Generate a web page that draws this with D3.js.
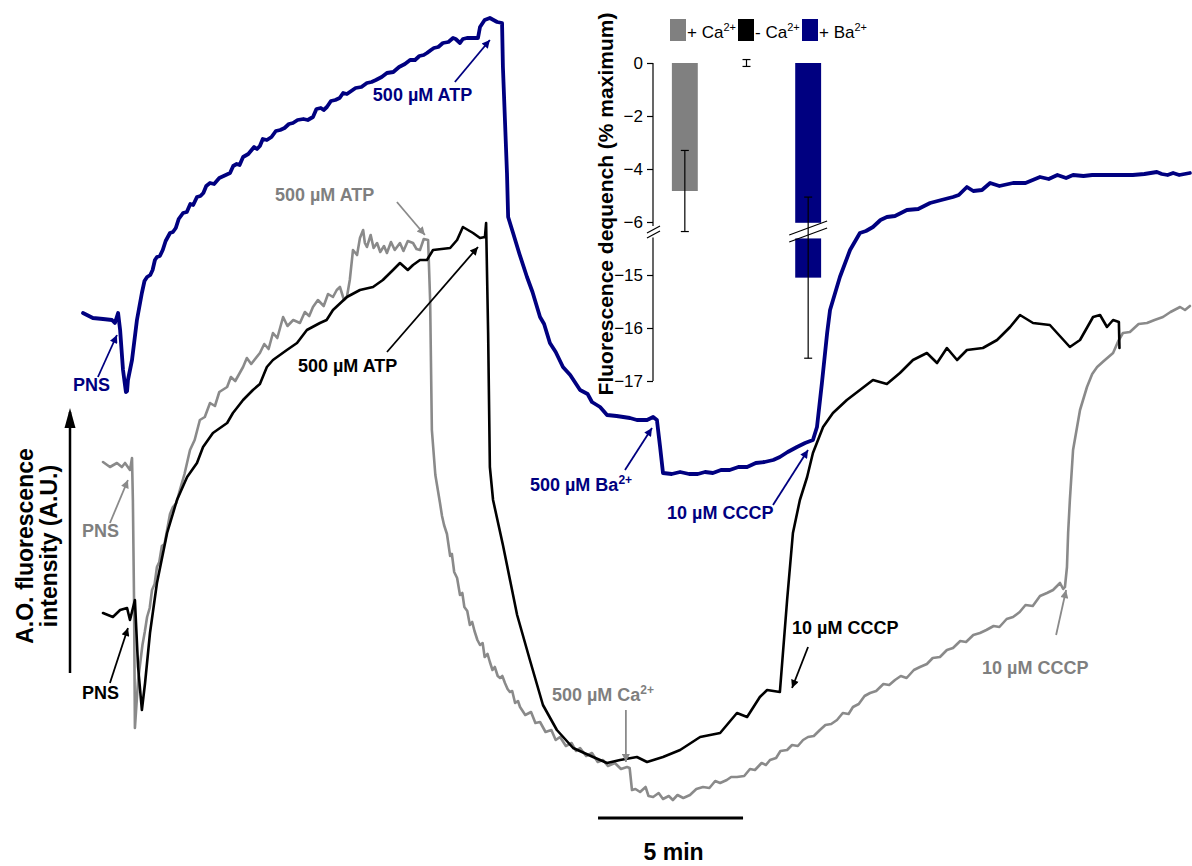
<!DOCTYPE html>
<html>
<head>
<meta charset="utf-8">
<script src="https://cdn.jsdelivr.net/npm/d3@7"></script>
<style>
  body { margin: 0; background: #fff; }
  svg { display: block; font-family: "Liberation Sans", Arial, Helvetica, sans-serif; }
</style>
</head>
<body>
<svg id="chart" width="1192" height="866"></svg>
<script>
// ---- Fluorescence traces: [time (min), A.O. fluorescence (A.U.)] ----
// + Ca2+ (grey): PNS, 500 µM ATP, 500 µM Ca2+, 10 µM CCCP
const traceCa = [
  [0.69,36.8],[0.93,36.3],[1.17,36.7],[1.34,36.3],[1.45,36.7],[1.62,36.0],[1.69,37.2],
  [1.72,33.0],[1.76,23.0],[1.79,10.2],[1.90,15.0],[2.05,18.5],[2.13,19.8],[2.21,21.3],
  [2.30,22.2],[2.38,24.0],[2.47,24.6],[2.55,26.3],[2.63,26.8],[2.72,28.4],[2.81,28.6],
  [2.90,30.0],[3.00,31.6],[3.10,32.3],[3.22,32.7],[3.34,34.0],[3.50,35.6],[3.69,38.0],
  [3.85,39.0],[4.03,41.0],[4.20,41.3],[4.38,42.7],[4.55,42.4],[4.70,43.8],[4.97,44.3],
  [5.10,45.3],[5.25,44.9],[5.52,46.3],[5.65,47.2],[5.80,46.6],[6.10,47.7],[6.25,48.6],
  [6.40,48.1],[6.55,49.7],[6.70,49.2],[6.90,51.3],[7.05,50.4],[7.25,51.0],[7.48,50.7],
  [7.65,51.8],[7.80,51.4],[7.93,52.3],[8.10,53.0],[8.30,52.4],[8.45,53.6],[8.62,53.3],
  [8.75,54.0],[8.86,54.3],[9.00,53.0],[9.10,53.3],[9.20,55.0],[9.31,58.0],[9.45,57.5],
  [9.55,59.2],[9.66,60.0],[9.72,58.7],[9.79,58.3],[9.92,59.5],[10.02,58.2],[10.14,58.7],
  [10.25,57.8],[10.38,58.4],[10.48,57.7],[10.62,58.8],[10.75,58.0],[10.93,58.7],
  [11.05,57.9],[11.20,58.9],[11.38,58.7],[11.50,58.1],[11.62,58.0],[11.75,59.1],
  [11.90,59.0],[11.97,53.0],[12.03,40.0],[12.15,35.5],[12.31,32.7],[12.38,31.4],
  [12.45,30.5],[12.55,29.6],[12.66,27.4],[12.72,27.6],[12.80,25.8],[12.90,25.2],
  [13.00,23.5],[13.08,23.7],[13.15,22.3],[13.25,21.9],[13.34,20.5],[13.42,20.8],
  [13.50,19.9],[13.60,19.0],[13.69,18.5],[13.78,18.7],[13.85,17.3],[13.95,17.6],
  [14.03,16.8],[14.12,16.0],[14.20,16.3],[14.30,15.4],[14.38,15.2],[14.46,15.4],
  [14.55,14.7],[14.64,14.1],[14.72,13.8],[14.80,13.9],[14.90,12.7],[15.00,12.9],
  [15.07,12.3],[15.25,11.5],[15.45,11.8],[15.60,10.7],
  [15.76,10.8],[15.95,9.8],[16.15,10.0],[16.30,9.0],[16.45,9.3],[16.65,8.4],[16.85,8.7],
  [17.00,7.9],[17.14,8.2],[17.35,7.4],[17.55,7.7],[17.75,6.8],[17.93,7.0],[18.10,6.4],
  [18.34,6.7],[18.55,6.1],[18.76,6.3],[18.85,6.2],[18.93,4.0],[19.05,4.1],[19.21,3.8],
  [19.40,4.3],[19.50,3.4],[19.66,3.3],[19.85,3.7],[20.00,3.1],[20.20,3.4],[20.34,3.0],
  [20.50,3.5],[20.70,3.2],[20.93,3.5],[21.15,4.1],[21.38,4.3],[21.60,4.2],[21.80,4.9],
  [21.97,4.7],[22.20,5.0],[22.35,5.3],[22.55,5.3],[22.80,5.4],[23.00,6.1],[23.17,6.0],
  [23.40,6.7],[23.55,6.5],[23.69,7.0],[23.90,7.2],[24.05,7.9],[24.28,8.0],[24.45,8.5],
  [24.65,8.4],[24.83,9.0],[25.00,9.3],[25.20,9.4],[25.41,10.0],[25.60,10.5],[25.80,10.6],
  [26.00,11.0],[26.20,11.7],[26.40,11.6],[26.55,12.3],[26.75,12.6],[26.95,13.4],
  [27.14,13.7],[27.35,13.9],[27.60,14.6],[27.80,14.5],[28.00,15.0],[28.20,15.4],
  [28.40,15.2],[28.65,16.0],[28.86,16.3],[29.10,16.6],[29.30,17.2],[29.55,17.3],
  [29.79,18.0],[30.00,18.2],[30.25,18.9],[30.45,18.8],[30.70,19.5],[30.93,19.7],
  [31.15,20.0],[31.40,20.4],[31.60,20.3],[31.85,21.1],[32.07,21.3],[32.30,21.8],
  [32.50,22.5],[32.75,22.4],[33.00,23.4],[33.24,23.7],[33.45,24.0],[33.69,24.7],
  [33.80,24.1],[33.86,24.3],[33.93,26.3],[33.97,29.7],[34.03,33.0],[34.14,38.0],
  [34.38,42.0],[34.62,44.3],[34.80,45.6],[34.97,46.3],[35.20,46.9],[35.52,47.7],
  [35.70,48.9],[35.86,49.7],[36.10,49.8],[36.40,50.6],[36.69,50.7],[36.95,51.0],
  [37.24,51.3],[37.50,51.8],[37.83,52.3],[38.00,52.0],[38.17,52.4]
];

// - Ca2+ (black): PNS, 500 µM ATP, 10 µM CCCP
const traceNoCa = [
  [0.69,21.7],[1.03,21.3],[1.28,22.0],[1.52,22.2],[1.62,21.0],[1.79,23.0],[1.90,16.3],
  [2.03,12.0],[2.14,14.7],[2.31,19.7],[2.55,24.7],[2.90,29.7],[3.24,33.0],[3.59,35.3],
  [3.93,36.7],[4.14,38.3],[4.48,39.7],[4.97,40.7],[5.17,41.7],[5.52,43.0],[5.86,44.0],
  [6.10,44.6],[6.34,46.3],[6.55,47.0],[7.03,48.0],[7.38,48.7],[7.72,50.0],[8.17,50.7],
  [8.40,51.0],[8.62,52.0],[9.10,53.3],[9.55,54.0],[10.00,54.3],[10.34,55.0],[10.69,56.0],
  [10.93,56.7],[11.20,56.0],[11.38,56.5],[11.62,57.0],[11.86,57.0],[12.07,58.0],
  [12.66,58.2],[12.90,59.0],[13.10,60.3],[13.45,59.7],[13.69,59.2],[13.86,59.3],
  [13.90,60.7],[13.97,49.7],[14.03,36.3],[14.14,33.0],[14.48,28.5],[14.97,21.5],
  [15.41,17.0],[15.86,12.5],[16.34,10.0],[16.90,8.2],[17.59,7.3],[18.07,6.7],[18.52,7.0],
  [19.10,7.3],[19.45,6.8],[20.00,7.3],[20.59,8.0],[21.28,9.3],[21.97,9.7],[22.55,11.7],
  [22.90,11.3],[23.34,13.3],[23.59,14.0],[24.03,13.8],[24.28,23.0],[24.48,29.7],
  [24.72,33.0],[24.97,35.3],[25.17,37.7],[25.52,40.3],[25.86,41.7],[26.34,43.0],
  [26.79,44.0],[27.24,45.0],[27.72,44.6],[28.17,45.7],[28.62,47.0],[29.10,47.7],
  [29.45,46.7],[29.79,48.2],[30.14,47.0],[30.48,48.0],[31.03,48.2],[31.52,49.0],
  [31.97,50.3],[32.31,51.5],[32.76,50.7],[33.34,50.5],[34.03,48.3],[34.38,49.0],
  [34.83,51.3],[35.07,51.5],[35.31,50.3],[35.52,51.0],[35.72,50.8],[35.74,48.2]
];

// + Ba2+ (navy): PNS, 500 µM ATP, 500 µM Ba2+, 10 µM CCCP
const traceBa = [
  [0,51.7],[0.34,51.2],[0.69,51.1],[1.00,51.0],[1.10,50.7],[1.21,51.7],[1.28,50.0],
  [1.38,46.0],[1.48,43.8],[1.52,43.9],[1.55,45.0],[1.69,47.0],[1.86,51.0],[2.03,53.7],
  [2.12,54.9],[2.21,55.3],[2.32,55.5],[2.40,56.0],[2.48,57.0],[2.55,57.3],[2.65,57.4],
  [2.75,58.0],[2.85,58.9],[3.00,59.7],[3.10,59.8],[3.20,60.2],[3.30,61.1],[3.45,61.7],
  [3.58,61.8],[3.70,62.6],[3.80,62.5],[3.93,63.3],[4.05,63.4],[4.15,63.7],[4.25,64.4],
  [4.38,64.7],[4.52,64.6],[4.70,65.2],[4.85,65.4],[5.07,65.7],[5.18,66.4],[5.30,66.6],
  [5.40,66.5],[5.52,67.3],[5.70,67.6],[5.90,68.3],[6.00,68.1],[6.10,68.4],[6.20,69.1],
  [6.34,69.0],[6.50,69.3],[6.65,69.9],[6.80,70.0],[6.95,70.2],[7.10,70.6],[7.24,70.7],
  [7.40,71.0],[7.60,71.1],[7.75,71.0],[7.93,71.3],[8.05,72.1],[8.20,72.2],[8.30,72.0],
  [8.41,72.3],[8.55,72.9],[8.70,73.0],[8.85,73.2],[8.97,73.7],[9.10,73.6],[9.25,73.9],
  [9.40,74.2],[9.60,74.3],[9.79,74.7],[9.95,74.8],[10.10,75.0],[10.30,75.3],[10.48,75.7],
  [10.70,75.8],[10.90,76.3],[11.10,76.6],[11.28,77.0],[11.45,77.0],[11.60,77.4],
  [11.75,77.5],[11.86,77.7],[12.00,78.0],[12.10,78.2],[12.25,78.3],[12.41,78.7],
  [12.60,78.8],[12.76,79.2],[12.85,79.1],[13.00,78.7],[13.10,79.1],[13.24,79.2],
  [13.45,79.2],[13.62,79.2],[13.69,80.3],[13.85,81.0],[14.03,81.2],[14.28,80.8],
  [14.45,80.7],[14.48,76.3],[14.62,65.7],[14.66,61.3],[14.83,59.7],[15.05,57.6],
  [15.31,55.3],[15.50,53.8],[15.76,51.3],[15.90,50.6],[16.10,48.7],[16.30,47.8],
  [16.55,46.3],[16.80,45.5],[17.14,44.0],[17.40,43.6],[17.55,42.8],[17.83,42.3],
  [18.07,41.5],[18.40,41.4],[18.86,41.2],[19.10,41.0],[19.45,41.0],[19.66,41.3],
  [19.79,41.0],[19.90,38.3],[20.00,35.7],[20.30,35.6],[20.59,35.8],[20.90,35.6],
  [21.20,35.6],[21.45,35.8],[21.72,35.7],[22.00,36.0],[22.30,36.0],[22.60,36.3],
  [22.90,36.3],[23.20,36.7],[23.50,36.8],[23.80,37.0],[24.03,37.3],[24.30,37.8],
  [24.62,38.3],[24.90,38.7],[25.17,39.0],[25.31,40.3],[25.48,44.7],[25.66,49.7],
  [25.76,52.0],[26.10,55.3],[26.45,58.0],[26.79,59.7],[27.00,59.9],[27.24,60.3],
  [27.50,61.0],[27.72,61.3],[28.00,61.4],[28.41,62.0],[28.80,62.1],[29.21,62.7],
  [29.60,63.0],[30.00,63.3],[30.20,63.5],[30.48,64.3],[30.70,63.9],[31.00,64.0],
  [31.28,64.7],[31.60,64.4],[32.07,64.7],[32.50,64.7],[33.00,65.3],[33.30,65.1],
  [33.60,65.5],[33.90,65.2],[34.14,65.5],[34.50,65.4],[34.80,65.5],[35.31,65.5],
  [35.80,65.5],[36.20,65.5],[36.60,65.6],[37.03,65.8],[37.20,65.6],[37.40,65.5],
  [37.59,65.7],[37.80,65.5],[38.17,65.7]
];

// ---- Inset: fluorescence dequench (% maximum), mean ± SD ----
const dequenchGroups = ["+ Ca", "- Ca", "+ Ba"];
const dequenchMean = [-4.83, 0, -15.05];
const dequenchErr = [1.53, 0.13, 1.52];
const upperTicks = [0, -2, -4, -6];
const lowerTicks = [-15, -16, -17];

// scale bar length (min)
const scaleBarMinutes = 5;
const scaleBarStart = 17.76;

const NAVY = "#000080", GREY = "#8a8a8a", GREY_TEXT = "#7f7f7f", BLACK = "#000";

const svg = d3.select("#chart");
svg.append("rect").attr("width", 1192).attr("height", 866).attr("fill", "#fff");

// main scales
const x = d3.scaleLinear().domain([0, 40]).range([83, 1243]);
const y = d3.scaleLinear().domain([0, 82]).range([830, 10]);

const line = d3.line().x(d => x(d[0])).y(d => y(d[1]));

const traces = [
  { data: traceCa, color: GREY, width: 2.6 },
  { data: traceNoCa, color: BLACK, width: 2.6 },
  { data: traceBa, color: NAVY, width: 3.8 }
];
svg.append("g").selectAll("path").data(traces).join("path")
  .attr("d", d => line(d.data))
  .attr("fill", "none")
  .attr("stroke", d => d.color)
  .attr("stroke-width", d => d.width)
  .attr("stroke-linejoin", "round")
  .attr("stroke-linecap", "round");

// arrow markers
const defs = svg.append("defs");
[["navy", NAVY], ["grey", GREY], ["black", BLACK]].forEach(([id, c]) => {
  defs.append("marker").attr("id", "ah-" + id)
    .attr("viewBox", "0 0 10 10").attr("refX", 10).attr("refY", 5)
    .attr("markerUnits", "userSpaceOnUse")
    .attr("markerWidth", 10).attr("markerHeight", 8).attr("orient", "auto")
    .append("path").attr("d", "M0,0 L10,5 L0,10 Z").attr("fill", c);
});

// annotations: tip anchored on the trace (data units), tail and label offsets in px
const notes = [
  { parts: [["500 µM ATP"]], mk: "navy", color: NAVY, tip: [14.03, 79.0], tail: [-35, 42], lab: [-117, 61] },
  { parts: [["500 µM ATP"]], mk: "grey", color: GREY_TEXT, tip: [11.79, 59.5], tail: [-28, -33], lab: [-150, -34] },
  { parts: [["500 µM ATP"]], mk: "black", color: BLACK, tip: [13.62, 58.3], tail: [-91, 105], lab: [-180, 125] },
  { parts: [["PNS"]], mk: "navy", color: NAVY, tip: [1.17, 49.5], tail: [-19, 42], lab: [-44, 56] },
  { parts: [["PNS"]], mk: "grey", color: GREY_TEXT, tip: [1.55, 35.0], tail: [-18, 43], lab: [-46, 57] },
  { parts: [["PNS"]], mk: "black", color: BLACK, tip: [1.55, 20.2], tail: [-18, 55], lab: [-46, 71] },
  { parts: [["500 µM Ba"], ["2+", true]], mk: "navy", color: NAVY, tip: [19.62, 40.2], tail: [-27, 42], lab: [-122, 63] },
  { parts: [["10 µM CCCP"]], mk: "navy", color: NAVY, tip: [25.0, 38.0], tail: [-35, 55], lab: [-141, 69] },
  { parts: [["10 µM CCCP"]], mk: "black", color: BLACK, tip: [24.45, 14.2], tail: [16, -41], lab: [0, -54] },
  { parts: [["500 µM Ca"], ["2+", true]], mk: "grey", color: GREY_TEXT, tip: [18.72, 6.8], tail: [0, -52], lab: [-74, -61] },
  { parts: [["10 µM CCCP"]], mk: "grey", color: GREY_TEXT, tip: [33.9, 24.0], tail: [-10, 45], lab: [-84, 84] }
];

const ng = svg.append("g");
notes.forEach(n => {
  const tx = x(n.tip[0]), ty = y(n.tip[1]);
  ng.append("line")
    .attr("x1", tx + n.tail[0]).attr("y1", ty + n.tail[1])
    .attr("x2", tx).attr("y2", ty)
    .attr("stroke", n.mk === "grey" ? GREY : n.color).attr("stroke-width", 1.8)
    .attr("marker-end", `url(#ah-${n.mk})`);
  const t = ng.append("text")
    .attr("x", tx + n.lab[0]).attr("y", ty + n.lab[1])
    .attr("fill", n.color).attr("font-weight", "bold").attr("font-size", 18);
  n.parts.forEach(([s, sup]) => {
    const sp = t.append("tspan").text(s);
    if (sup) sp.attr("font-size", 12).attr("dy", -7);
  });
});

// y-axis arrow and label
svg.append("line").attr("x1", 70).attr("y1", 673).attr("x2", 70).attr("y2", 412)
  .attr("stroke", BLACK).attr("stroke-width", 2.5);
svg.append("path").attr("d", "M70,408 L64.5,428 L75.5,428 Z").attr("fill", BLACK);
const yl = svg.append("text").attr("transform", "translate(0,546) rotate(-90)")
  .attr("text-anchor", "middle").attr("font-weight", "bold").attr("font-size", 23);
yl.append("tspan").attr("x", 0).attr("y", 33).text("A.O. fluorescence");
yl.append("tspan").attr("x", 0).attr("y", 57).text("intensity (A.U.)");

// time scale bar
svg.append("line")
  .attr("x1", x(scaleBarStart)).attr("x2", x(scaleBarStart + scaleBarMinutes))
  .attr("y1", 818).attr("y2", 818).attr("stroke", BLACK).attr("stroke-width", 3);
svg.append("text").attr("x", x(scaleBarStart + scaleBarMinutes / 2) + 3).attr("y", 860)
  .attr("text-anchor", "middle").attr("font-weight", "bold").attr("font-size", 23)
  .text(scaleBarMinutes + " min");

// ---- Inset bar chart with broken axis ----
const inset = svg.append("g");
const axisX = 653;
const yUp = d3.scaleLinear().domain([0, -6]).range([63, 222]);
const yLow = d3.scaleLinear().domain([-15, -17]).range([275, 381]);
const breakTop = -6.08, breakBottom = -14.31;
const bx = d3.scaleBand().domain(dequenchGroups).range([654, 839]).paddingInner(0.58).paddingOuter(0.29);
const barColors = ["#808080", "#000", NAVY];

const upAxis = inset.append("g").attr("transform", `translate(${axisX},0)`)
  .call(d3.axisLeft(yUp).tickValues(upperTicks).tickSize(6).tickPadding(4).tickFormat(d3.format("d")));
const lowAxis = inset.append("g").attr("transform", `translate(${axisX},0)`)
  .call(d3.axisLeft(yLow).tickValues(lowerTicks).tickSize(6).tickPadding(4).tickFormat(d3.format("d")));
[upAxis, lowAxis].forEach(a => {
  a.select(".domain").remove();
  a.selectAll("text").attr("font-size", 17).attr("font-family", "Liberation Sans, Arial, sans-serif").attr("fill", "#000");
  a.selectAll("line").attr("stroke", "#000").attr("stroke-width", 1.2);
});
inset.append("line").attr("x1", axisX).attr("x2", axisX)
  .attr("y1", yUp(0)).attr("y2", yUp(breakTop) + 2).attr("stroke", "#000").attr("stroke-width", 1.2);
inset.append("line").attr("x1", axisX).attr("x2", axisX)
  .attr("y1", yLow(breakBottom) - 1).attr("y2", yLow(-17)).attr("stroke", "#000").attr("stroke-width", 1.2);
// break marks on the axis
[0, 5].forEach(o => inset.append("line")
  .attr("x1", axisX - 6).attr("y1", 233 + o).attr("x2", axisX + 7).attr("y2", 226 + o)
  .attr("stroke", "#000").attr("stroke-width", 1.2));

// bars
dequenchGroups.forEach((g, i) => {
  const m = dequenchMean[i], e = dequenchErr[i];
  const x0 = bx(g), w = bx.bandwidth(), cx = x0 + w / 2;
  if (m >= breakTop) {
    if (m < 0) inset.append("rect").attr("x", x0).attr("y", yUp(0)).attr("width", w)
      .attr("height", yUp(m) - yUp(0)).attr("fill", barColors[i]);
  } else {
    inset.append("rect").attr("x", x0).attr("y", yUp(0)).attr("width", w)
      .attr("height", yUp(-6.03) - yUp(0)).attr("fill", barColors[i]);
    inset.append("rect").attr("x", x0).attr("y", yLow(breakBottom)).attr("width", w)
      .attr("height", yLow(m) - yLow(breakBottom)).attr("fill", barColors[i]);
    [0, 7].forEach(o => inset.append("line")
      .attr("x1", x0 - 6).attr("y1", 235 + o).attr("x2", x0 + w + 6).attr("y2", 221 + o)
      .attr("stroke", "#000").attr("stroke-width", 1.2));
  }
  const sc = m >= breakTop ? yUp : yLow;
  const yTop = sc(m + e), yBot = sc(m - e);
  inset.append("line").attr("x1", cx).attr("x2", cx).attr("y1", yTop).attr("y2", yBot)
    .attr("stroke", "#000").attr("stroke-width", 1.2);
  [yTop, yBot].forEach(yy => inset.append("line").attr("x1", cx - 4).attr("x2", cx + 4)
    .attr("y1", yy).attr("y2", yy).attr("stroke", "#000").attr("stroke-width", 1.2));
});

// inset y label
inset.append("text").attr("transform", "translate(613,204) rotate(-90)")
  .attr("text-anchor", "middle").attr("font-weight", "bold").attr("font-size", 21)
  .text("Fluorescence dequench (% maximum)");

// inset legend
const legendX = [670, 738, 802];
dequenchGroups.forEach((g, i) => {
  inset.append("rect").attr("x", legendX[i]).attr("y", 19).attr("width", 16).attr("height", 22)
    .attr("fill", barColors[i]);
  const t = inset.append("text").attr("x", legendX[i] + 17).attr("y", 38).attr("font-size", 17);
  t.append("tspan").text(g);
  t.append("tspan").text("2+").attr("font-size", 11).attr("dy", -7);
});
</script>
</body>
</html>
